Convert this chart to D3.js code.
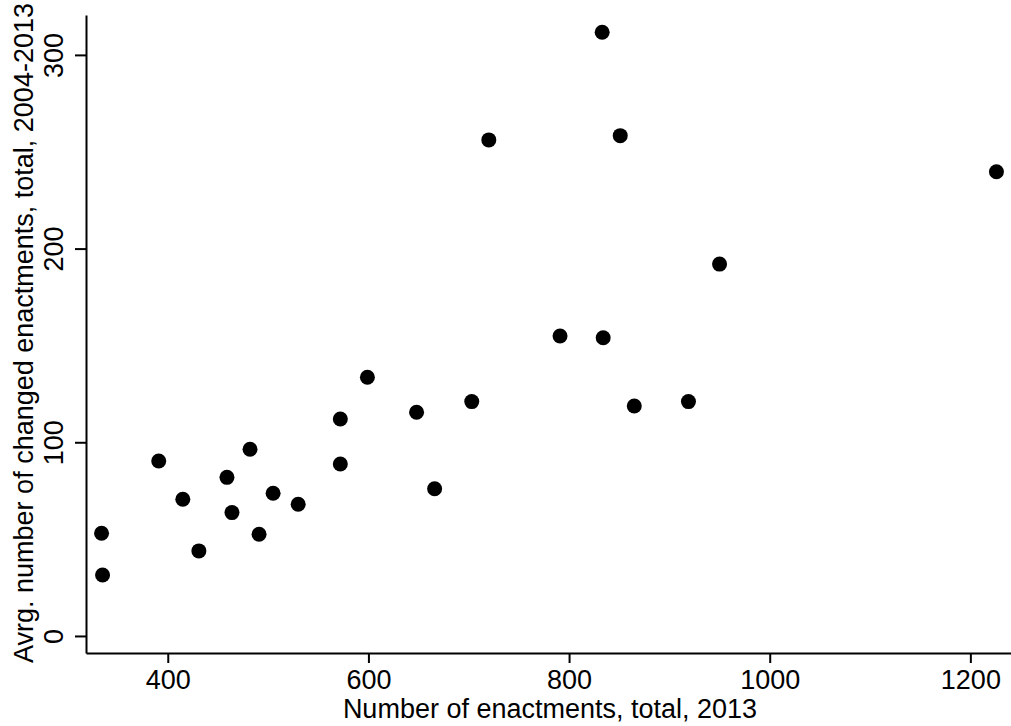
<!DOCTYPE html>
<html>
<head>
<meta charset="utf-8">
<script src="https://cdn.jsdelivr.net/npm/d3@7"></script>
<style>
  body { margin: 0; background: #fff; }
  text { font-family: "Liberation Sans", Arial, sans-serif; fill: #000; }
  .axis path, .axis line { stroke: #000; stroke-width: 2px; }
</style>
</head>
<body>
<div id="chart"></div>
<script>
// enactments in 2013 (x) vs avg changed enactments 2004-2013 (y)
var enactments = [334, 335, 391, 415, 431, 459, 464, 482, 491, 505, 530, 572, 572,
  599, 648, 666, 703, 720, 791, 833, 834, 851, 865, 919, 950, 1226];
var changed = [53, 31.5, 90.3, 70.6, 43.9, 81.9, 63.7, 96.4, 52.5, 73.7, 68, 112, 88.8,
  133.6, 115.5, 76, 121, 256.1, 154.9, 311.7, 154, 258.3, 118.7, 121, 192, 239.7];

var xTicks = [400, 600, 800, 1000, 1200];
var yTicks = [0, 100, 200, 300];

var xTitle = "Number of enactments, total, 2013";
var yTitle = "Avrg. number of changed enactments, total, 2004-2013";

var width = 1011, height = 726;

var svg = d3.select("#chart").append("svg")
  .attr("width", width)
  .attr("height", height);

var x = d3.scaleLinear()
  .domain([318.5, 1240.5])
  .range([86, 1011]);

var y = d3.scaleLinear()
  .domain([-8.8, 320.6])
  .range([653, 15]);

// AXES
var xAxis = d3.axisBottom(x)
  .tickValues(xTicks)
  .tickSize(10)
  .tickSizeOuter(0)
  .tickFormat(d3.format("d"));

var gx = svg.append("g")
  .attr("class", "x axis")
  .attr("transform", "translate(0,653)")
  .call(xAxis);
gx.selectAll("text")
  .attr("y", 36)
  .attr("dy", 0)
  .style("font-size", "27px");

var yAxis = d3.axisLeft(y)
  .tickValues(yTicks)
  .tickSize(11)
  .tickSizeOuter(0)
  .tickFormat(d3.format("d"));

var gy = svg.append("g")
  .attr("class", "y axis")
  .attr("transform", "translate(86,0)")
  .call(yAxis);
gy.selectAll("text")
  .attr("transform", "rotate(-90)")
  .attr("x", 0)
  .attr("y", -23)
  .attr("dy", 0)
  .attr("text-anchor", "middle")
  .style("font-size", "27px");

// titles
svg.append("text")
  .attr("x", 550)
  .attr("y", 718)
  .attr("text-anchor", "middle")
  .style("font-size", "27px")
  .text(xTitle);

svg.append("text")
  .attr("transform", "translate(33,333) rotate(-90)")
  .attr("text-anchor", "middle")
  .style("font-size", "27px")
  .text(yTitle);

// POINTS
svg.append("g")
  .selectAll("circle")
  .data(d3.range(enactments.length))
  .enter().append("circle")
  .attr("cx", function (i) { return x(enactments[i]); })
  .attr("cy", function (i) { return y(changed[i]); })
  .attr("r", 7.5)
  .attr("fill", "#000");
</script>
</body>
</html>
